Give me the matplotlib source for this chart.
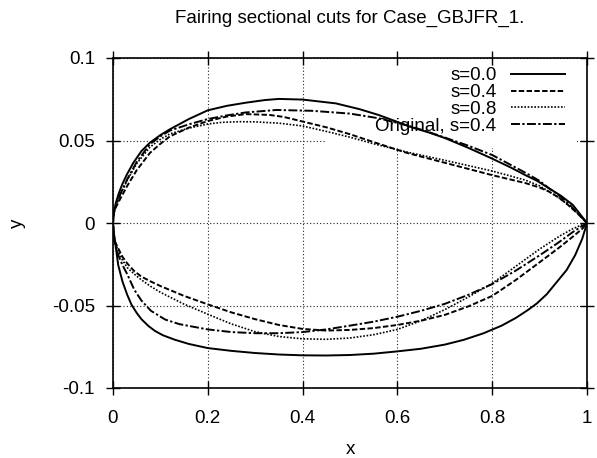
import matplotlib
matplotlib.use("Agg")
import matplotlib.pyplot as plt
from matplotlib.patches import Rectangle

plt.rcParams['font.family'] = ['Liberation Sans', 'DejaVu Sans']

title = "Fairing sectional cuts for Case_GBJFR_1."
series_labels = ["s=0.0", "s=0.4", "s=0.8", "Original, s=0.4"]

xticks = [0, 0.2, 0.4, 0.6, 0.8, 1.0]
xtick_labels = ["0", "0.2", "0.4", "0.6", "0.8", "1"]
yticks = [-0.1, -0.05, 0, 0.05, 0.1]
ytick_labels = ["-0.1", "-0.05", "0", "0.05", "0.1"]

# s=0.0 (solid)
s00_x_up = [1.0, 0.985, 0.97, 0.945, 0.92, 0.895, 0.87, 0.84, 0.8, 0.75, 0.7, 0.665, 0.63, 0.595, 0.56, 0.52, 0.47, 0.4, 0.35, 0.32, 0.28, 0.24, 0.2, 0.16, 0.12, 0.1, 0.078, 0.06, 0.043, 0.03, 0.02, 0.012, 0.006, 0.002, 0.0005, 0.0]
s00_y_up = [0.0, 0.0055, 0.011, 0.0165, 0.021, 0.0255, 0.029, 0.0335, 0.039, 0.0455, 0.0515, 0.055, 0.058, 0.0618, 0.0655, 0.069, 0.0725, 0.0748, 0.0752, 0.0745, 0.0729, 0.0710, 0.0683, 0.0630, 0.0568, 0.0533, 0.0487, 0.0436, 0.0365, 0.0298, 0.0238, 0.0178, 0.0122, 0.0068, 0.0033, 0.0]
s00_x_lo = [0.0, 0.001, 0.004, 0.011, 0.02, 0.03, 0.039, 0.05, 0.06, 0.075, 0.089, 0.105, 0.13, 0.16, 0.2, 0.25, 0.3, 0.35, 0.4, 0.45, 0.5, 0.55, 0.6, 0.65, 0.7, 0.74, 0.781, 0.82, 0.85, 0.875, 0.894, 0.915, 0.935, 0.957, 0.975, 0.99, 1.0]
s00_y_lo = [0.0, -0.0045, -0.0105, -0.0255, -0.0355, -0.0435, -0.0495, -0.0545, -0.0583, -0.0625, -0.0655, -0.068, -0.0707, -0.0733, -0.0758, -0.0775, -0.0788, -0.0797, -0.0802, -0.0803, -0.080, -0.0792, -0.0778, -0.0762, -0.0737, -0.0708, -0.0669, -0.0622, -0.0575, -0.0528, -0.0488, -0.0432, -0.0362, -0.0285, -0.0195, -0.0095, 0.0]

# s=0.4 (dashed)
s04_x_up = [1.0, 0.98, 0.96, 0.94, 0.92, 0.9, 0.87, 0.8, 0.7, 0.62, 0.55, 0.5, 0.45, 0.4, 0.36, 0.33, 0.28, 0.24, 0.2, 0.16, 0.12, 0.1, 0.078, 0.05, 0.03, 0.015, 0.006, 0.002, 0.0]
s04_y_up = [0.0, 0.0058, 0.011, 0.0155, 0.019, 0.0215, 0.0242, 0.029, 0.0365, 0.0425, 0.049, 0.0538, 0.058, 0.0615, 0.0643, 0.0655, 0.066, 0.0645, 0.0618, 0.0578, 0.0525, 0.048, 0.0425, 0.032, 0.0225, 0.0145, 0.0095, 0.0062, 0.0]
s04_x_lo = [0.0, 0.003, 0.011, 0.02, 0.03, 0.045, 0.06, 0.08, 0.1, 0.15, 0.2, 0.25, 0.3, 0.35, 0.4, 0.45, 0.5, 0.55, 0.6, 0.65, 0.7, 0.75, 0.8, 0.85, 0.9, 0.94, 0.97, 0.99, 1.0]
s04_y_lo = [0.0, -0.0105, -0.0154, -0.0205, -0.0245, -0.0292, -0.0325, -0.0355, -0.0382, -0.0442, -0.0493, -0.0542, -0.0583, -0.0618, -0.0642, -0.0652, -0.0648, -0.0637, -0.0618, -0.0592, -0.0557, -0.0505, -0.0442, -0.0345, -0.0238, -0.0152, -0.0083, -0.0035, 0.0]

# s=0.8 (dotted)
s08_x_up = [1.0, 0.98, 0.96, 0.94, 0.92, 0.9, 0.87, 0.8, 0.7, 0.62, 0.55, 0.5, 0.45, 0.4, 0.35, 0.3, 0.268, 0.23, 0.2, 0.16, 0.12, 0.1, 0.078, 0.05, 0.03, 0.015, 0.006, 0.002, 0.0]
s08_y_up = [0.0, 0.006, 0.011, 0.0155, 0.019, 0.0225, 0.026, 0.0315, 0.038, 0.043, 0.048, 0.052, 0.0555, 0.0588, 0.0605, 0.0613, 0.0614, 0.061, 0.0600, 0.0575, 0.054, 0.0507, 0.046, 0.036, 0.026, 0.017, 0.0105, 0.0065, 0.0]
s08_x_lo = [0.0, 0.003, 0.011, 0.02, 0.03, 0.045, 0.06, 0.08, 0.1, 0.15, 0.2, 0.25, 0.3, 0.35, 0.4, 0.45, 0.5, 0.55, 0.6, 0.65, 0.7, 0.75, 0.8, 0.85, 0.9, 0.943, 0.97, 0.99, 1.0]
s08_y_lo = [0.0, -0.0105, -0.017, -0.0225, -0.027, -0.031, -0.0345, -0.0385, -0.042, -0.0492, -0.0553, -0.0612, -0.0659, -0.0688, -0.0702, -0.0705, -0.0697, -0.0677, -0.0645, -0.0592, -0.0525, -0.0448, -0.0366, -0.0262, -0.0158, -0.0078, -0.0035, -0.001, 0.0]

# Original, s=0.4 (dash-dot)
org_x_up = [1.0, 0.98, 0.96, 0.94, 0.92, 0.9, 0.873, 0.8, 0.75, 0.7, 0.66, 0.62, 0.56, 0.5, 0.42, 0.345, 0.28, 0.24, 0.2, 0.16, 0.12, 0.1, 0.078, 0.05, 0.03, 0.015, 0.006, 0.002, 0.0]
org_y_up = [0.0, 0.0062, 0.012, 0.017, 0.021, 0.0255, 0.030, 0.0412, 0.0468, 0.0518, 0.0557, 0.0592, 0.0635, 0.0663, 0.068, 0.0685, 0.067, 0.0652, 0.063, 0.0598, 0.056, 0.0525, 0.0478, 0.037, 0.0265, 0.0172, 0.0105, 0.0068, 0.0]
org_x_lo = [0.0, 0.003, 0.011, 0.02, 0.03, 0.045, 0.06, 0.08, 0.11, 0.14, 0.2, 0.25, 0.3, 0.35, 0.4, 0.45, 0.5, 0.55, 0.6, 0.65, 0.7, 0.75, 0.8, 0.85, 0.9, 0.94, 0.97, 0.99, 1.0]
org_y_lo = [0.0, -0.011, -0.0194, -0.0255, -0.031, -0.0405, -0.047, -0.0532, -0.0585, -0.0613, -0.0645, -0.0661, -0.0668, -0.0668, -0.0661, -0.0645, -0.0622, -0.0598, -0.0568, -0.0532, -0.049, -0.0435, -0.037, -0.0288, -0.0196, -0.0118, -0.0055, -0.0018, 0.0]

FS = 13.5
fig = plt.figure(figsize=(5.97, 4.58), dpi=100)
ax = fig.add_axes([113/597, 1-388/458, 474/597, 330/458])

styles = [
    dict(linestyle='-', lw=1.4),
    dict(linestyle=(0, (2.8, 1.2)), lw=1.4),
    dict(linestyle=(0, (1.0, 1.0)), lw=1.2),
    dict(linestyle=(0, (4.6, 1.2, 1.2, 1.2)), lw=1.4),
]
data = [
    (s00_x_up, s00_y_up, s00_x_lo, s00_y_lo),
    (s04_x_up, s04_y_up, s04_x_lo, s04_y_lo),
    (s08_x_up, s08_y_up, s08_x_lo, s08_y_lo),
    (org_x_up, org_y_up, org_x_lo, org_y_lo),
]
handles = []
for (xu, yu, xl, yl), st, lab in zip(data, styles, series_labels):
    h, = ax.plot(list(xu) + list(xl), list(yu) + list(yl), color='black', label=lab,
                 zorder=3, solid_joinstyle='round', dash_joinstyle='round', **st)
    handles.append(h)

ax.set_xlim(0, 1)
ax.set_ylim(-0.1, 0.1)
ax.set_xticks(xticks)
ax.set_xticklabels(xtick_labels)
ax.set_yticks(yticks)
ax.set_yticklabels(ytick_labels)
ax.tick_params(direction='inout', length=10, width=1.0, labelsize=FS, top=True, right=True, color='black')
ax.tick_params(axis='y', pad=8)
ax.tick_params(axis='x', pad=11)
ax.set_axisbelow(True)
ax.grid(True, color='#222222', linestyle=(0, (1, 2)), linewidth=0.8)
for sp in ax.spines.values():
    sp.set_linewidth(1.2)

# white key area blanking grid
ax.add_patch(Rectangle((0.447, 0.727), 0.532, 0.246, transform=ax.transAxes,
                       facecolor='white', edgecolor='none', zorder=1))

leg = ax.legend(handles=handles, loc='upper right', bbox_to_anchor=(0.9536, 0.972),
                frameon=False, markerfirst=False, fontsize=FS, handlelength=2.9,
                handletextpad=0.75, labelspacing=-0.02, borderpad=0, borderaxespad=0)
leg.set_zorder(2)

ax.set_xlabel('x', fontsize=FS, va='center')
ax.xaxis.set_label_coords(0.5, (388-449)/330)
ax.set_ylabel('y', fontsize=FS, va='center')
ax.yaxis.set_label_coords((17.5-113)/474, 0.5)

fig.text(350/597, 1-18/458, title, ha='center', va='center', fontsize=FS)

fig.savefig('out.png', dpi=100)
